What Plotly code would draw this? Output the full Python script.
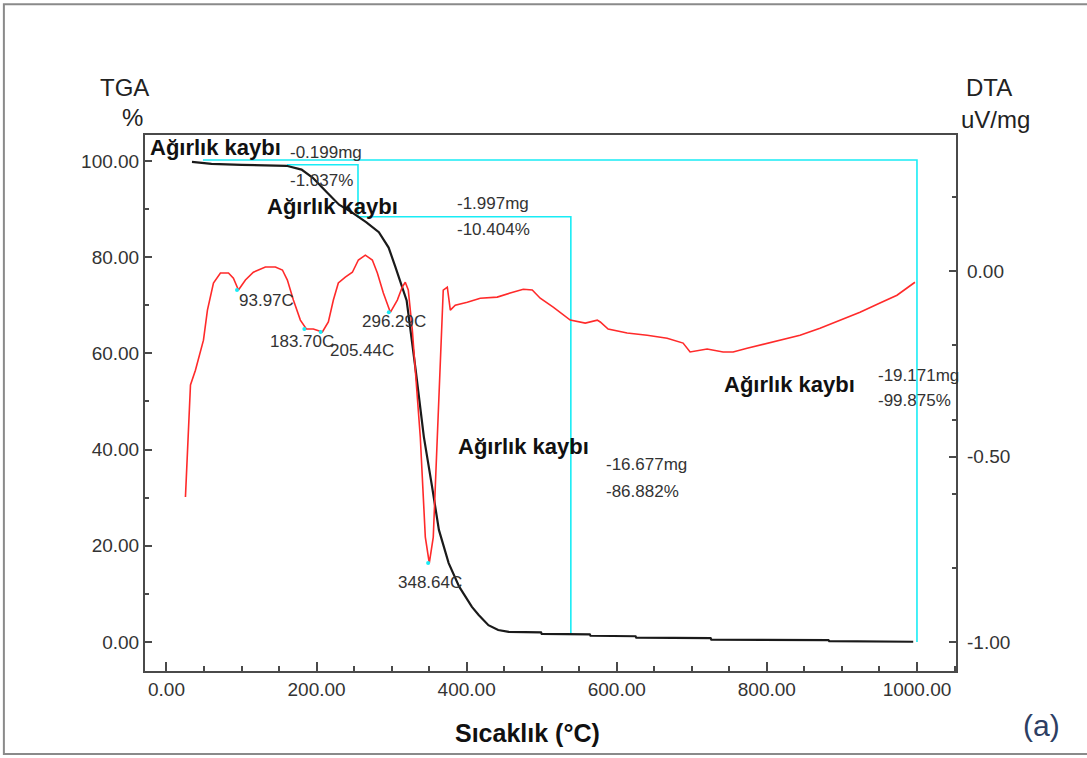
import plotly.graph_objects as go

# ---------------- data ----------------
temp_tga = [34, 60, 100, 160, 180, 195, 213, 230, 248, 266, 283, 296, 305, 320, 332, 343,
            354, 363, 376, 390, 407, 416, 429, 442, 456, 499, 500, 564, 565, 625, 626,
            725, 726, 882, 883, 990, 995]
tga = [99.8, 99.4, 99.2, 99.0, 98.2, 96.5, 93.6, 90.9, 89.2, 87.3, 85.2, 82.0, 78.0, 71.0,
       56.6, 42.6, 32.2, 23.3, 16.4, 11.5, 7.3, 5.6, 3.5, 2.5, 2.1, 2.0, 1.7, 1.6, 1.3,
       1.2, 0.9, 0.8, 0.5, 0.4, 0.2, 0.15, 0.05]

temp_dta = [25.3, 29.3, 32.0, 38.6, 49.3, 54.6, 62.6, 71.9, 82.6, 89.2, 95.9, 105.2, 115.8,
            131.8, 145.1, 154.5, 161.1, 169.1, 178.4, 186.4, 195.7, 207.7, 215.7, 222.4,
            229.0, 238.3, 247.7, 255.7, 265.0, 274.3, 281.0, 289.0, 298.3, 307.6, 314.2,
            318.2, 322.2, 327.6, 331.6, 338.2, 344.9, 350.2, 355.5, 360.9, 364.8, 368.8,
            374.2, 378.2, 384.8, 400.8, 418.1, 440.7, 458.0, 475.4, 487.4, 498.0, 515.3,
            538.0, 558.0, 574.0, 578.0, 588.5, 613.8, 640.5, 667.1, 688.4, 697.7, 720.4,
            741.7, 755.0, 773.6, 795.0, 817.6, 844.2, 870.8, 897.5, 924.1, 950.7, 973.4,
            997.3]
dta = [-0.609, -0.429, -0.307, -0.267, -0.186, -0.105, -0.032, -0.005, -0.005, -0.019,
       -0.051, -0.024, -0.003, 0.011, 0.011, 0.003, -0.024, -0.078, -0.132, -0.156,
       -0.156, -0.164, -0.137, -0.078, -0.032, -0.016, -0.003, 0.030, 0.043, 0.030,
       -0.005, -0.059, -0.111, -0.078, -0.043, -0.030, -0.051, -0.159, -0.267, -0.447,
       -0.717, -0.787, -0.717, -0.447, -0.221, -0.051, -0.043, -0.105, -0.092, -0.084,
       -0.073, -0.070, -0.059, -0.049, -0.051, -0.073, -0.097, -0.132, -0.140, -0.132,
       -0.137, -0.156, -0.167, -0.173, -0.181, -0.194, -0.218, -0.210, -0.218, -0.218,
       -0.208, -0.197, -0.186, -0.173, -0.154, -0.132, -0.111, -0.086, -0.065, -0.030]

peak_temp = [93.97, 183.70, 205.44, 296.29, 348.64]
peak_dta = [-0.051, -0.156, -0.164, -0.111, -0.787]
peak_labels = ["93.97C", "183.70C", "205.44C", "296.29C", "348.64C"]
peak_label_temp = [133.9, 180.5, 260.5, 303.1, 351.1]
peak_label_tga = [70.9, 62.4, 60.7, 66.7, 12.3]

# weight-loss step guide lines (temperature, TGA %)
step_total_temp = [48.6, 1000, 1000]
step_total_tga = [100.2, 100.2, 0.0]
step_a_temp = [160.6, 255.2, 255.2, 538.8, 538.8]
step_a_tga = [99.2, 99.2, 88.4, 88.4, 1.7]

loss_title = "Ağırlık kaybı"
loss_title_temp = [-24.7, 131.2, 385.7, 740.0]
loss_title_tga = [102.9, 90.6, 40.7, 53.6]
loss_mg = ["-0.199mg", "-1.997mg", "-16.677mg", "-19.171mg"]
loss_pct = ["-1.037%", "-10.404%", "-86.882%", "-99.875%"]
loss_val_temp = [161.9, 384.4, 582.9, 945.4]
loss_mg_tga = [101.7, 91.1, 36.8, 55.5]
loss_pct_tga = [96.0, 85.7, 31.2, 50.3]

x_ticks = [0, 200, 400, 600, 800, 1000]
y_ticks = [0, 20, 40, 60, 80, 100]
y2_ticks = [0.0, -0.5, -1.0]

# ---------------- figure ----------------
REG = "Liberation Sans, Arial"
CYAN = "#19ecf5"

fig = go.Figure()

fig.add_trace(go.Scatter(x=step_total_temp, y=step_total_tga, mode="lines",
                         line=dict(color=CYAN, width=1.6), hoverinfo="skip"))
fig.add_trace(go.Scatter(x=step_a_temp, y=step_a_tga, mode="lines",
                         line=dict(color=CYAN, width=1.6), hoverinfo="skip"))
fig.add_trace(go.Scatter(x=temp_tga, y=tga, mode="lines",
                         line=dict(color="#1a1a1a", width=2.2)))
fig.add_trace(go.Scatter(x=temp_dta, y=dta, mode="lines", yaxis="y2",
                         line=dict(color="#ff2a2a", width=1.6)))
fig.add_trace(go.Scatter(x=peak_temp, y=peak_dta, mode="markers", yaxis="y2",
                         marker=dict(color=CYAN, size=4)))

ann = []
for t, v, s in zip(peak_label_temp, peak_label_tga, peak_labels):
    ann.append(dict(x=t, y=v, xref="x", yref="y", text=s, showarrow=False,
                    xanchor="center", yanchor="middle",
                    font=dict(family=REG, size=17, color="#333333")))
for t, v in zip(loss_title_temp, loss_title_tga):
    ann.append(dict(x=t, y=v, xref="x", yref="y", text="<b>" + loss_title + "</b>",
                    showarrow=False, xanchor="left", yanchor="middle",
                    font=dict(family=REG, size=22, color="#111111")))
for t, v1, v2, s1, s2 in zip(loss_val_temp, loss_mg_tga, loss_pct_tga, loss_mg, loss_pct):
    ann.append(dict(x=t, y=v1, xref="x", yref="y", text=s1, showarrow=False,
                    xanchor="left", yanchor="middle",
                    font=dict(family=REG, size=17, color="#333333")))
    ann.append(dict(x=t, y=v2, xref="x", yref="y", text=s2, showarrow=False,
                    xanchor="left", yanchor="middle",
                    font=dict(family=REG, size=17, color="#333333")))

def paper_note(x, y, text, size, color="#222222"):
    return dict(x=x, y=y, xref="paper", yref="paper", text=text, showarrow=False,
                xanchor="center", yanchor="middle",
                font=dict(family=REG, size=size, color=color))

ann += [
    paper_note(-0.0247, 1.088, "TGA", 24),
    paper_note(-0.016, 1.032, "%", 24),
    paper_note(1.0407, 1.088, "DTA", 24),
    paper_note(1.049, 1.028, "uV/mg", 24),
    paper_note(0.472, -0.116, "<b>Sıcaklık (°C)</b>", 25, "#111111"),
    paper_note(1.105, -0.101, "(a)", 30, "#2d3e63"),
]

AX = "#4a4a4a"
fig.update_layout(
    width=1087, height=758,
    margin=dict(l=145, r=131, t=135, b=87),
    paper_bgcolor="white", plot_bgcolor="white",
    showlegend=False,
    annotations=ann,
    xaxis=dict(range=[-28.6, 1052], tickvals=x_ticks,
               ticktext=[f"{v:.2f}" for v in x_ticks],
               showgrid=False, zeroline=False, showline=True, linecolor=AX, linewidth=2,
               mirror=True, ticks="inside", ticklen=9, tickcolor=AX, tickwidth=1.5,
               minor=dict(dtick=50, ticks="inside", ticklen=5, tickcolor=AX),
               tickfont=dict(family=REG, size=19, color="#333333")),
    yaxis=dict(range=[-6.03, 105.4], tickvals=y_ticks,
               ticktext=[f"{v:.2f}" for v in y_ticks],
               showgrid=False, zeroline=False, showline=True, linecolor=AX, linewidth=2,
               mirror=True, ticks="inside", ticklen=7, tickcolor=AX, tickwidth=1.5,
               minor=dict(dtick=10, ticks="inside", ticklen=4, tickcolor=AX),
               tickfont=dict(family=REG, size=19, color="#333333")),
    yaxis2=dict(range=[-1.078, 0.367], overlaying="y", side="right",
                tickvals=y2_ticks, ticktext=[f"{v:.2f}" for v in y2_ticks],
                showgrid=False, zeroline=False, showline=False,
                ticks="inside", ticklen=7, tickcolor=AX, tickwidth=1.5,
                minor=dict(tick0=0, dtick=0.2, ticks="inside", ticklen=4, tickcolor=AX),
                ticklabelstandoff=10,
                tickfont=dict(family=REG, size=19, color="#333333")),
    shapes=[dict(type="rect", xref="paper", yref="paper", x0=-0.174, x1=1.2,
                 y0=-0.155, y1=1.244, line=dict(color="#8a8a8a", width=2))],
)

fig.write_html("out.html")
